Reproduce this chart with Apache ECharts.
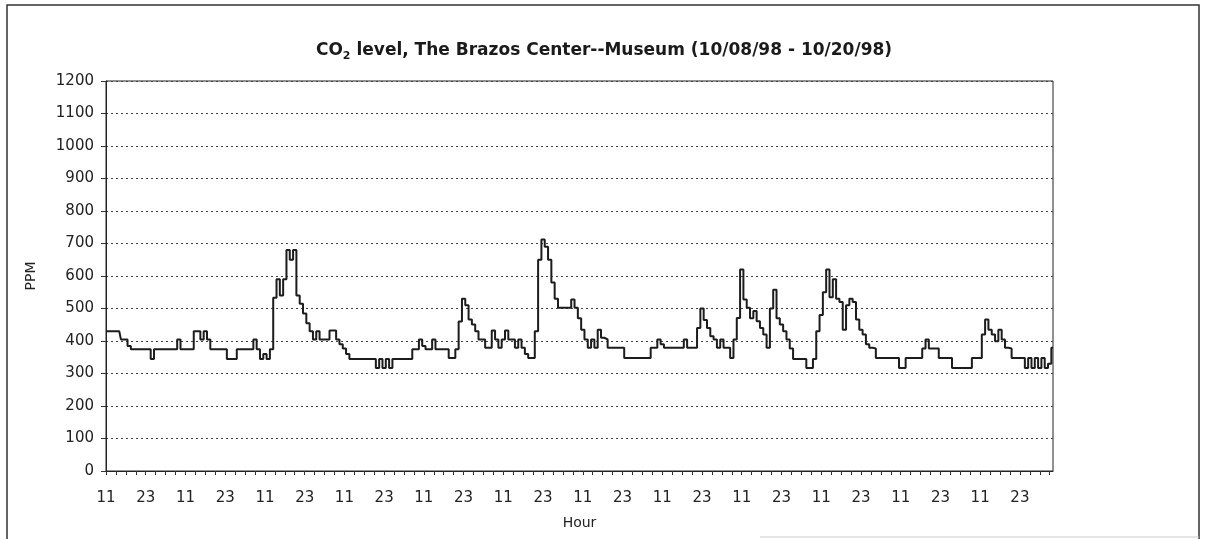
<!DOCTYPE html>
<html>
<head>
<meta charset="utf-8">
<script src="https://cdn.jsdelivr.net/npm/echarts@6/dist/echarts.min.js"></script>
<style>
html,body{margin:0;padding:0;background:#fff;}
#chart{width:1208px;height:539px;}
</style>
</head>
<body>
<div id="chart"></div>
<script>
// First reading is at hour 11; one reading per hour
const startHour = 11;
const ppm = [
  430,430,430,430,430,405,405,385,375,375,
  375,375,375,375,345,375,375,375,375,375,
  375,375,405,375,375,375,375,430,430,405,
  430,405,375,375,375,375,375,345,345,345,
  375,375,375,375,375,405,375,345,360,345,
  375,533,590,540,590,680,650,680,540,515,
  485,455,430,405,430,405,405,405,432,432,
  405,390,377,360,345,345,345,345,345,345,
  345,345,317,345,317,345,317,345,345,345,
  345,345,345,375,375,405,385,375,375,405,
  375,375,375,375,348,348,375,460,530,510,
  466,451,430,405,405,379,379,432,405,379,
  405,432,405,405,379,405,379,360,348,348,
  430,650,712,690,650,580,530,502,502,502,
  502,528,502,470,435,405,379,405,379,435,
  410,405,379,379,379,379,379,348,348,348,
  348,348,348,348,348,379,379,405,390,379,
  379,379,379,379,379,405,379,379,379,440,
  500,465,440,415,405,379,405,379,379,348,
  405,471,620,528,502,470,492,461,440,420,
  379,500,558,470,451,430,405,377,345,345,
  345,345,317,317,345,430,480,550,620,535,
  590,530,520,435,510,530,520,466,435,420,
  390,379,377,348,348,348,348,348,348,348,
  317,317,348,348,348,348,348,377,405,377,
  377,377,348,348,348,348,317,317,317,317,
  317,317,348,348,348,420,466,435,420,399,
  435,405,379,377,348,348,348,348,317,348,
  317,348,317,348,317,330,379
];
const hours = ppm.map((_, i) => String((startHour + i) % 24));
const yTicks = { min: 0, max: 1200, step: 100 };

const chart = echarts.init(document.getElementById('chart'), null, { renderer: 'canvas' });
const FONT = 'DejaVu Sans';
chart.setOption({
  animation: false,
  backgroundColor: '#fff',
  title: {
    text: '{n|CO}{s|2}{n| level, The Brazos Center--Museum (10/08/98 - 10/20/98)}',
    left: 'center',
    top: 35,
    textStyle: {
      rich: {
        n: { fontFamily: FONT, fontWeight: 'bold', fontSize: 17, color: '#1a1a1a', lineHeight: 22, verticalAlign: 'middle' },
        s: { fontFamily: FONT, fontWeight: 'bold', fontSize: 11, color: '#1a1a1a', lineHeight: 11, verticalAlign: 'bottom' }
      }
    }
  },
  grid: {
    left: 106, right: 155, top: 81, bottom: 68,
    show: true, borderColor: '#222', borderWidth: 1, backgroundColor: 'transparent'
  },
  xAxis: {
    type: 'category',
    data: hours,
    boundaryGap: false,
    name: 'Hour',
    nameLocation: 'middle',
    nameGap: 45,
    nameTextStyle: { fontFamily: FONT, fontSize: 14, color: '#222' },
    axisLine: { lineStyle: { color: '#222', width: 1 } },
    axisTick: { show: true, interval: 2, length: 4, lineStyle: { color: '#333' } },
    axisLabel: { interval: 11, margin: 20, fontFamily: FONT, fontSize: 15, color: '#222' },
    splitLine: { show: false }
  },
  yAxis: {
    type: 'value',
    min: yTicks.min, max: yTicks.max, interval: yTicks.step,
    name: 'PPM',
    nameLocation: 'middle',
    nameGap: 68,
    nameRotate: 90,
    nameTextStyle: { fontFamily: FONT, fontSize: 14, color: '#222' },
    axisLine: { show: true, lineStyle: { color: '#222', width: 1 } },
    axisTick: { show: true, length: 5, lineStyle: { color: '#333' } },
    axisLabel: { margin: 12, fontFamily: FONT, fontSize: 15, color: '#222', formatter: v => String(v) },
    splitLine: { show: true, lineStyle: { color: '#444', width: 1, type: [2, 3] } }
  },
  series: [{
    type: 'line',
    data: ppm,
    step: 'middle',
    symbol: 'none',
    lineStyle: { color: '#1c1c1c', width: 2 },
    z: 3
  }],
  graphic: [
    { type: 'polyline', shape: { points: [[7, 545], [7, 5], [1199, 5], [1199, 545]] },
      style: { stroke: '#333', lineWidth: 1.5, fill: null }, silent: true },
    { type: 'line', shape: { x1: 760, y1: 537, x2: 1199, y2: 537 },
      style: { stroke: '#ccc', lineWidth: 1 }, silent: true }
  ]
});
</script>
</body>
</html>
